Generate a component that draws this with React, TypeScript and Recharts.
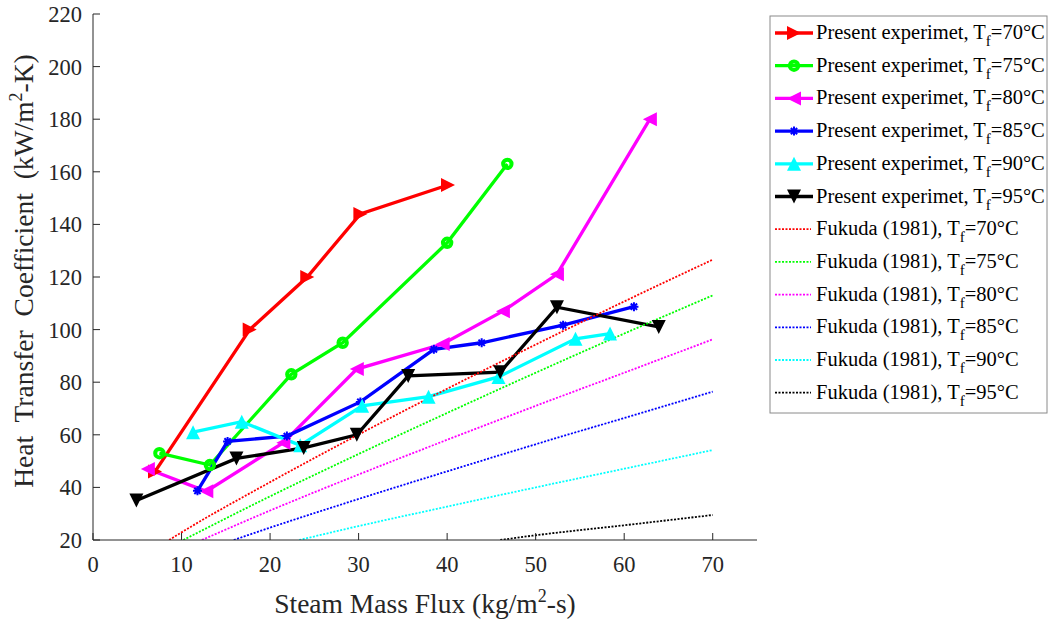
import React from 'react';
import { LineChart, Line, XAxis, YAxis } from 'recharts';

// Axis ticks
const fluxTicks = [0, 10, 20, 30, 40, 50, 60, 70];
const htcTicks = [20, 40, 60, 80, 100, 120, 140, 160, 180, 200, 220];

// Present experiment: steam mass flux (kg/m2-s) vs. heat transfer coefficient (kW/m2-K)
const flux70 = [7, 17.7, 24.2, 30.2, 40.1];
const htc70 = [46, 100, 120, 144, 155];
const flux75 = [7.5, 13.2, 22.4, 28.2, 40.0, 46.8];
const htc75 = [53, 48.5, 83, 95, 133, 163];
const flux80 = [6.2, 12.8, 21.5, 29.8, 39.5, 46.3, 52.4, 62.9];
const htc80 = [47, 38.5, 57, 85, 94.5, 107, 121, 180];
const flux85 = [11.8, 15.2, 21.9, 30.2, 38.5, 43.9, 53.1, 61.1];
const htc85 = [38.7, 57.5, 59.5, 72.5, 92.5, 95, 101.7, 108.7];
const flux90 = [11.3, 16.8, 23.4, 30.4, 37.9, 45.8, 54.5, 58.4];
const htc90 = [61, 65, 56, 71, 74.5, 82, 96.5, 98.5];
const flux95 = [4.9, 16.2, 23.8, 29.8, 35.6, 46, 52.4, 63.9];
const htc95 = [35, 51, 55, 60, 82.4, 83.8, 108.5, 101];

// Fukuda (1981) correlation curves
const fukFlux70 = [8.6, 10, 20, 30, 40, 50, 60, 70];
const fukHtc70 = [20, 22.9, 42.0, 60.1, 77.5, 94.3, 110.7, 126.6];
const fukFlux75 = [10.2, 20, 30, 40, 50, 60, 70];
const fukHtc75 = [20, 36.6, 52.7, 68.3, 83.6, 98.5, 113];
const fukFlux80 = [12.3, 20, 30, 40, 50, 60, 70];
const fukHtc80 = [20, 31.2, 44.9, 58.1, 71.0, 83.6, 96.3];
const fukFlux85 = [15.9, 20, 30, 40, 50, 60, 70];
const fukHtc85 = [20, 24.7, 35.6, 46.1, 56.4, 66.4, 76.4];
const fukFlux90 = [23.3, 30, 40, 50, 60, 70];
const fukHtc90 = [20, 25.3, 32.7, 40.0, 47.1, 54.2];
const fukFlux95 = [46, 50, 60, 70];
const fukHtc95 = [20, 21.8, 25.6, 29.5];

const temps = ['70', '75', '80', '85', '90', '95'];
const colors = ['#ff0000', '#00ff00', '#ff00ff', '#0000ff', '#00ffff', '#000000'];

type Shape = 'right' | 'circle' | 'left' | 'star' | 'up' | 'down';
const shapes: Shape[] = ['right', 'circle', 'left', 'star', 'up', 'down'];

const zip = (xs: number[], ys: number[]) => xs.map((x, i) => ({ x, y: ys[i] }));

const experiments = [
  zip(flux70, htc70),
  zip(flux75, htc75),
  zip(flux80, htc80),
  zip(flux85, htc85),
  zip(flux90, htc90),
  zip(flux95, htc95),
];
const fukuda = [
  zip(fukFlux70, fukHtc70),
  zip(fukFlux75, fukHtc75),
  zip(fukFlux80, fukHtc80),
  zip(fukFlux85, fukHtc85),
  zip(fukFlux90, fukHtc90),
  zip(fukFlux95, fukHtc95),
];

const FONT = 'Liberation Serif';
const AXIS = '#262626';
const DOTTED = '2 1.5';

function Marker({ shape, cx, cy, color }: { shape: Shape; cx: number; cy: number; color: string }) {
  const s = 7;
  switch (shape) {
    case 'right':
      return <path d={`M${cx + s},${cy} L${cx - s},${cy - s} L${cx - s},${cy + s} Z`} fill={color} />;
    case 'left':
      return <path d={`M${cx - s},${cy} L${cx + s},${cy - s} L${cx + s},${cy + s} Z`} fill={color} />;
    case 'up':
      return <path d={`M${cx},${cy - s} L${cx - s},${cy + s} L${cx + s},${cy + s} Z`} fill={color} />;
    case 'down':
      return <path d={`M${cx},${cy + s} L${cx - s},${cy - s} L${cx + s},${cy - s} Z`} fill={color} />;
    case 'circle':
      return <circle cx={cx} cy={cy} r={4.2} fill="none" stroke={color} strokeWidth={4} />;
    case 'star': {
      const r = 4.5;
      const d = r * 0.7;
      return (
        <path
          d={`M${cx - r},${cy} L${cx + r},${cy} M${cx},${cy - r} L${cx},${cy + r} M${cx - d},${cy - d} L${cx + d},${cy + d} M${cx - d},${cy + d} L${cx + d},${cy - d}`}
          stroke={color}
          strokeWidth={2}
        />
      );
    }
  }
}

const makeDot = (shape: Shape, color: string) => (props: any) => {
  const { cx, cy, index } = props;
  return (
    <g key={`${shape}-${index}`}>
      <Marker shape={shape} cx={cx} cy={cy} color={color} />
    </g>
  );
};

function LegendBox() {
  const x0 = 770;
  const y0 = 16;
  const rowH = 32.7;
  const rows = [
    ...temps.map((t, i) => ({ label: 'Present experimet, T', t, i, solid: true })),
    ...temps.map((t, i) => ({ label: 'Fukuda (1981), T', t, i, solid: false })),
  ];
  return (
    <g>
      <rect x={x0} y={y0} width={277} height={397} fill="#fff" stroke="#8a8a8a" strokeWidth={1} />
      {rows.map((r, k) => {
        const cy = y0 + 17 + k * rowH;
        return (
          <g key={k}>
            {r.solid ? (
              <>
                <line x1={775} x2={813} y1={cy} y2={cy} stroke={colors[r.i]} strokeWidth={3.3} />
                <Marker shape={shapes[r.i]} cx={794} cy={cy} color={colors[r.i]} />
              </>
            ) : (
              <line x1={775} x2={811} y1={cy} y2={cy} stroke={colors[r.i]} strokeWidth={1.8} strokeDasharray={DOTTED} />
            )}
            <text x={816} y={cy + 6} style={{ fontFamily: FONT }} fontSize={20.5} fill="#000">
              {r.label}
              <tspan fontSize={15} dy={7}>f</tspan>
              <tspan dy={-7}>{`=${r.t}°C`}</tspan>
            </text>
          </g>
        );
      })}
    </g>
  );
}

export default function App() {
  const tickStyle = { fill: AXIS, fontSize: 22.5, fontFamily: FONT };
  return (
    <div style={{ position: 'absolute', left: 0, top: 0, width: 1052, height: 622, background: '#fff', fontFamily: FONT }}>
      <LineChart
        width={1052}
        height={622}
        margin={{ top: 14, right: 295, bottom: 0, left: 0 }}
        style={{ position: 'absolute', left: 0, top: 0 }}
      >
        <XAxis
          dataKey="x"
          type="number"
          domain={[0, 75]}
          ticks={fluxTicks}
          height={82}
          tickSize={-7}
          tickMargin={23}
          stroke={AXIS}
          tick={tickStyle}
          allowDataOverflow
        />
        <XAxis
          xAxisId="top"
          orientation="top"
          dataKey="x"
          type="number"
          domain={[0, 75]}
          ticks={fluxTicks}
          height={0}
          tickSize={-7}
          stroke={AXIS}
          tickFormatter={() => ''}
          allowDataOverflow
        />
        <YAxis
          dataKey="y"
          type="number"
          domain={[20, 220]}
          ticks={htcTicks}
          width={93}
          tickSize={-7}
          tickMargin={18}
          stroke={AXIS}
          tick={tickStyle}
          allowDataOverflow
        />
        <YAxis
          yAxisId="right"
          orientation="right"
          dataKey="y"
          type="number"
          domain={[20, 220]}
          ticks={htcTicks}
          width={0}
          tickSize={-7}
          stroke={AXIS}
          tickFormatter={() => ''}
          allowDataOverflow
        />
        {experiments.map((pts, i) => (
          <Line
            key={`exp-${temps[i]}`}
            data={pts}
            dataKey="y"
            type="linear"
            stroke={colors[i]}
            strokeWidth={3.3}
            dot={makeDot(shapes[i], colors[i])}
            activeDot={false}
            isAnimationActive={false}
          />
        ))}
        {fukuda.map((pts, i) => (
          <Line
            key={`fuk-${temps[i]}`}
            data={pts}
            dataKey="y"
            type="monotone"
            stroke={colors[i]}
            strokeWidth={1.8}
            strokeDasharray={DOTTED}
            dot={false}
            activeDot={false}
            isAnimationActive={false}
          />
        ))}
      </LineChart>
      <svg width={1052} height={622} style={{ position: 'absolute', left: 0, top: 0, pointerEvents: 'none' }}>
        <text x={425} y={613} textAnchor="middle" style={{ fontFamily: FONT }} fontSize={27.5} fill={AXIS}>
          Steam Mass Flux (kg/m
          <tspan fontSize={18} dy={-11}>2</tspan>
          <tspan dy={11}>-s)</tspan>
        </text>
        <text
          transform="translate(33,271) rotate(-90)"
          textAnchor="middle"
          style={{ fontFamily: FONT, wordSpacing: 7 }}
          fontSize={27.5}
          fill={AXIS}
        >
          Heat Transfer Coefficient (kW/m
          <tspan fontSize={18} dy={-11}>2</tspan>
          <tspan dy={11}>-K)</tspan>
        </text>
        <LegendBox />
      </svg>
    </div>
  );
}
